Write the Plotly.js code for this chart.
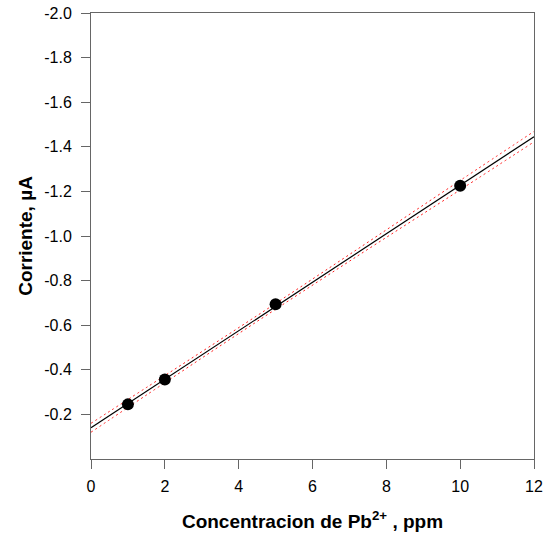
<!DOCTYPE html>
<html>
<head>
<meta charset="utf-8">
<script src="https://cdn.plot.ly/plotly-3.0.1.min.js"></script>
<style>html,body{margin:0;padding:0;background:#fff;}#chart{width:545px;height:533px;}</style>
</head>
<body>
<div id="chart"></div>
<script>
// Measured data points
const concentration = [1, 2, 5, 10];
const current = [-0.245, -0.357, -0.694, -1.225];

// Regression line endpoints
const fitX = [0, 12];
const fitY = [-0.140, -1.445];

// Confidence band
const bandX = [0, 2, 4.5, 7, 10, 12];
const bandUpper = [-0.160, -0.374, -0.643, -0.917, -1.249, -1.469];
const bandLower = [-0.120, -0.342, -0.617, -0.887, -1.207, -1.422];

// Axis ticks
const xTicks = [0, 2, 4, 6, 8, 10, 12];
const yTicks = [-0.2, -0.4, -0.6, -0.8, -1.0, -1.2, -1.4, -1.6, -1.8, -2.0];
const yTickText = ["-0.2", "-0.4", "-0.6", "-0.8", "-1.0", "-1.2", "-1.4", "-1.6", "-1.8", "-2.0"];

const font = "Liberation Sans, Arial, sans-serif";

const traces = [
  {x: bandX, y: bandUpper, mode: "lines", line: {color: "#ff2020", width: 1, dash: "2px,3px", shape: "spline"}, hoverinfo: "skip"},
  {x: bandX, y: bandLower, mode: "lines", line: {color: "#ff2020", width: 1, dash: "2px,3px", shape: "spline"}, hoverinfo: "skip"},
  {x: fitX, y: fitY, mode: "lines", line: {color: "#000", width: 1.2}, hoverinfo: "skip"},
  {x: concentration, y: current, mode: "markers", marker: {color: "#000", size: 12}}
];

const layout = {
  width: 545, height: 533,
  margin: {l: 91, r: 11, t: 13, b: 74},
  showlegend: false,
  paper_bgcolor: "#fff", plot_bgcolor: "#fff",
  font: {family: font, color: "#000", size: 16},
  xaxis: {
    range: [0, 12], tickvals: xTicks, ticks: "outside", ticklen: 9, tickwidth: 1, tickcolor: "#666",
    showline: true, linecolor: "#666", linewidth: 1, mirror: true, showgrid: false, zeroline: false,
    tickfont: {family: font, size: 16}, ticklabelstandoff: 4,
    title: {text: "<b>Concentracion de Pb<sup>2+</sup> , ppm</b>", font: {family: font, size: 19}, standoff: 20}
  },
  yaxis: {
    range: [0, -2.0], tickvals: yTicks, ticktext: yTickText, ticks: "outside", ticklen: 9, tickwidth: 1, tickcolor: "#666",
    showline: true, linecolor: "#666", linewidth: 1, mirror: true, showgrid: false, zeroline: false,
    tickfont: {family: font, size: 16}, ticklabelstandoff: 6,
    title: {text: "<b>Corriente, µA</b>", font: {family: font, size: 19}, standoff: 6}
  }
};

Plotly.newPlot("chart", traces, layout, {displayModeBar: false, staticPlot: true});
</script>
</body>
</html>
